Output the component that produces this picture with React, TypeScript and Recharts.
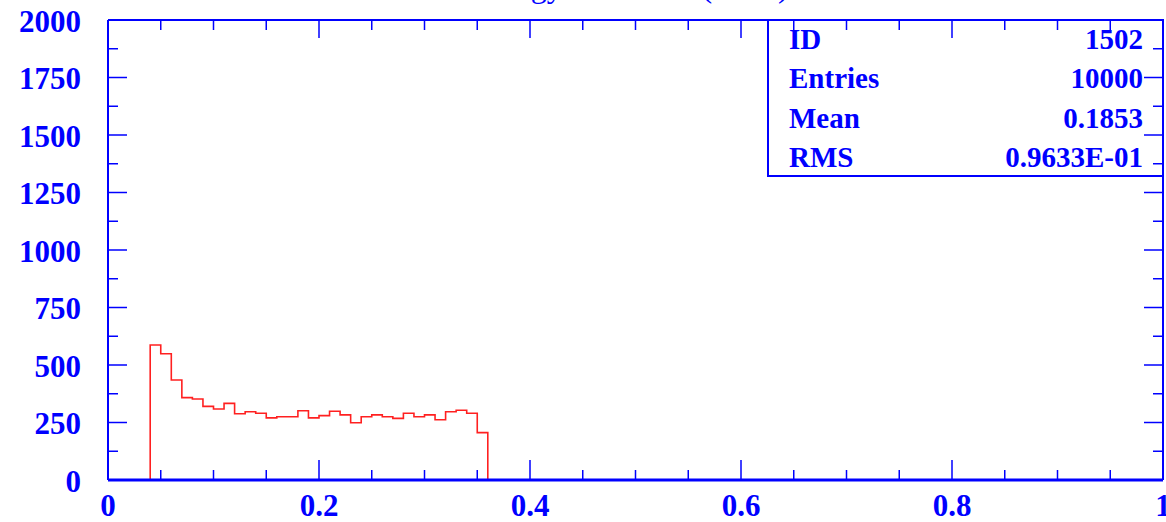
import React from 'react';
import { ComposedChart, Line, XAxis, YAxis, Customized } from 'recharts';

// histogram 1502: 100 bins on [0,1], only bins 0.04..0.36 filled
const binEdges = [
  0.04, 0.05, 0.06, 0.07, 0.08, 0.09, 0.1, 0.11, 0.12, 0.13, 0.14, 0.15, 0.16, 0.17, 0.18, 0.19,
  0.2, 0.21, 0.22, 0.23, 0.24, 0.25, 0.26, 0.27, 0.28, 0.29, 0.3, 0.31, 0.32, 0.33, 0.34, 0.35, 0.36,
];
const binCounts = [
  587, 549, 435, 358, 352, 320, 309, 333, 288, 297, 290, 270, 275, 275, 301, 270,
  280, 299, 283, 249, 275, 283, 275, 268, 290, 275, 283, 262, 297, 303, 290, 206,
];

const xTicks = [
  0, 0.05, 0.1, 0.15, 0.2, 0.25, 0.3, 0.35, 0.4, 0.45, 0.5, 0.55, 0.6, 0.65, 0.7, 0.75, 0.8, 0.85,
  0.9, 0.95, 1,
];
const xLabelTicks = [0, 0.2, 0.4, 0.6, 0.8, 1];
const yTicks = [0, 125, 250, 375, 500, 625, 750, 875, 1000, 1125, 1250, 1375, 1500, 1625, 1750, 1875, 2000];
const yLabelTicks = [0, 250, 500, 750, 1000, 1250, 1500, 1750, 2000];

const statLabels = ['ID', 'Entries', 'Mean', 'RMS'];
const statValues = ['1502', '10000', '0.1853', '0.9633E-01'];
const title = 'Energy Absorbed (MeV)';

const BLUE = '#0000ff';
const RED = '#ff2020';
const SERIF = '"Liberation Serif", "Times New Roman", serif';

// step outline: rise at the first edge, drop at the last one
const histPoints = [
  { x: binEdges[0], count: 0 },
  ...binCounts.map((c, i) => ({ x: binEdges[i], count: c })),
  { x: binEdges[binEdges.length - 1], count: 0 },
];

const isMajor = (v: number, list: number[]) => list.some((t) => Math.abs(t - v) < 1e-9);

const labelStyle = { fontFamily: SERIF, fontWeight: 700, fontSize: 31, fill: BLUE };

const BottomTick = (props: any) => {
  const { x, y, payload } = props;
  const major = isMajor(payload.value, xLabelTicks);
  return (
    <g>
      <line x1={x} x2={x} y1={y} y2={y - (major ? 20 : 10)} stroke={BLUE} strokeWidth={1.5} />
      {major && (
        <text x={x} y={y + 25} textAnchor="middle" dominantBaseline="central" style={labelStyle}>
          {String(payload.value)}
        </text>
      )}
    </g>
  );
};

const TopTick = (props: any) => {
  const { x, y, payload } = props;
  const major = isMajor(payload.value, xLabelTicks);
  return <line x1={x} x2={x} y1={y} y2={y + (major ? 18 : 10)} stroke={BLUE} strokeWidth={1.5} />;
};

const LeftTick = (props: any) => {
  const { x, y, payload } = props;
  const major = isMajor(payload.value, yLabelTicks);
  return (
    <g>
      <line x1={x} x2={x + (major ? 19 : 10)} y1={y} y2={y} stroke={BLUE} strokeWidth={1.5} />
      {major && (
        <text x={x - 27} y={y + 1} textAnchor="end" dominantBaseline="central" style={labelStyle}>
          {String(payload.value)}
        </text>
      )}
    </g>
  );
};

const RightTick = (props: any) => {
  const { x, y, payload } = props;
  const major = isMajor(payload.value, yLabelTicks);
  return <line x1={x} x2={x - (major ? 19 : 10)} y1={y} y2={y} stroke={BLUE} strokeWidth={1.5} />;
};

// statistics panel in the upper right corner plus the title, clipped by the top edge
const StatsBox = () => (
  <g>
    <text x={471} y={-3} style={{ fontFamily: SERIF, fontSize: 32, fill: BLUE }}>
      {title}
    </text>
    <rect x={768} y={20} width={395} height={156} fill="none" stroke={BLUE} strokeWidth={2} />
    {statLabels.map((s, i) => (
      <g key={s}>
        <text x={789} y={49 + i * 39.3} style={{ ...labelStyle, fontSize: 29 }}>
          {s}
        </text>
        <text x={1143} y={49 + i * 39.3} textAnchor="end" style={{ ...labelStyle, fontSize: 29 }}>
          {statValues[i]}
        </text>
      </g>
    ))}
  </g>
);

export default function App() {
  return (
    <div style={{ position: 'absolute', left: 0, top: 0, background: '#fff' }}>
      <ComposedChart
        width={1166}
        height={522}
        data={histPoints}
        margin={{ top: 0, right: 0, bottom: 0, left: 0 }}
      >
        <XAxis
          xAxisId="bottom"
          dataKey="x"
          type="number"
          domain={[0, 1]}
          ticks={xTicks}
          interval={0}
          height={42}
          tickSize={0}
          tickMargin={0}
          tick={<BottomTick />}
          axisLine={{ stroke: BLUE, strokeWidth: 3 }}
          allowDataOverflow
        />
        <XAxis
          xAxisId="top"
          dataKey="x"
          orientation="top"
          type="number"
          domain={[0, 1]}
          ticks={xTicks}
          interval={0}
          height={20}
          tickSize={0}
          tickMargin={0}
          tick={<TopTick />}
          axisLine={{ stroke: BLUE, strokeWidth: 2 }}
          allowDataOverflow
        />
        <YAxis
          yAxisId="left"
          type="number"
          domain={[0, 2000]}
          ticks={yTicks}
          interval={0}
          width={108}
          tickSize={0}
          tickMargin={0}
          tick={<LeftTick />}
          axisLine={{ stroke: BLUE, strokeWidth: 2 }}
          allowDataOverflow
        />
        <YAxis
          yAxisId="right"
          orientation="right"
          type="number"
          domain={[0, 2000]}
          ticks={yTicks}
          interval={0}
          width={3}
          tickSize={0}
          tickMargin={0}
          tick={<RightTick />}
          axisLine={{ stroke: BLUE, strokeWidth: 2 }}
          allowDataOverflow
        />
        <Line
          xAxisId="bottom"
          yAxisId="left"
          type="stepAfter"
          dataKey="count"
          stroke={RED}
          strokeWidth={1.6}
          dot={false}
          activeDot={false}
          isAnimationActive={false}
        />
        <Customized component={StatsBox} />
      </ComposedChart>
    </div>
  );
}
